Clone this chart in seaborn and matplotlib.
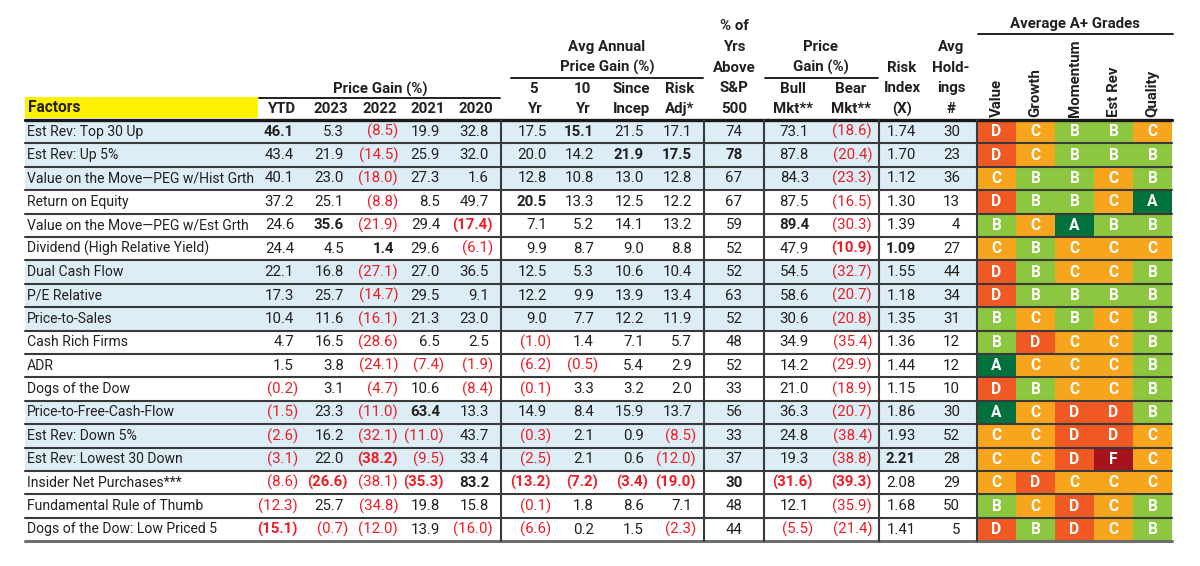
import numpy as np
import pandas as pd
import matplotlib.pyplot as plt
from matplotlib.colors import ListedColormap
from matplotlib.patches import Rectangle
import seaborn as sns

factors = ["Est Rev: Top 30 Up", "Est Rev: Up 5%", "Value on the Move\u2014PEG w/Hist Grth",
           "Return on Equity", "Value on the Move\u2014PEG w/Est Grth", "Dividend (High Relative Yield)",
           "Dual Cash Flow", "P/E Relative", "Price-to-Sales", "Cash Rich Firms", "ADR",
           "Dogs of the Dow", "Price-to-Free-Cash-Flow", "Est Rev: Down 5%", "Est Rev: Lowest 30 Down",
           "Insider Net Purchases***", "Fundamental Rule of Thumb", "Dogs of the Dow: Low Priced 5"]

ytd = [46.1, 43.4, 40.1, 37.2, 24.6, 24.4, 22.1, 17.3, 10.4, 4.7, 1.5, -0.2, -1.5, -2.6, -3.1, -8.6, -12.3, -15.1]
y2023 = [5.3, 21.9, 23.0, 25.1, 35.6, 4.5, 16.8, 25.7, 11.6, 16.5, 3.8, 3.1, 23.3, 16.2, 22.0, -26.6, 25.7, -0.7]
y2022 = [-8.5, -14.5, -18.0, -8.8, -21.9, 1.4, -27.1, -14.7, -16.1, -28.6, -24.1, -4.7, -11.0, -32.1, -38.2, -38.1, -34.8, -12.0]
y2021 = [19.9, 25.9, 27.3, 8.5, 29.4, 29.6, 27.0, 29.5, 21.3, 6.5, -7.4, 10.6, 63.4, -11.0, -9.5, -35.3, 19.8, 13.9]
y2020 = [32.8, 32.0, 1.6, 49.7, -17.4, -6.1, 36.5, 9.1, 23.0, 2.5, -1.9, -8.4, 13.3, 43.7, 33.4, 83.2, 15.8, -16.0]
avg5 = [17.5, 20.0, 12.8, 20.5, 7.1, 9.9, 12.5, 12.2, 9.0, -1.0, -6.2, -0.1, 14.9, -0.3, -2.5, -13.2, -0.1, -6.6]
avg10 = [15.1, 14.2, 10.8, 13.3, 5.2, 8.7, 5.3, 9.9, 7.7, 1.4, -0.5, 3.3, 8.4, 2.1, 2.1, -7.2, 1.8, 0.2]
since_incep = [21.5, 21.9, 13.0, 12.5, 14.1, 9.0, 10.6, 13.9, 12.2, 7.1, 5.4, 3.2, 15.9, 0.9, 0.6, -3.4, 8.6, 1.5]
risk_adj = [17.1, 17.5, 12.8, 12.2, 13.2, 8.8, 10.4, 13.4, 11.9, 5.7, 2.9, 2.0, 13.7, -8.5, -12.0, -19.0, 7.1, -2.3]
pct_above = [74, 78, 67, 67, 59, 52, 52, 63, 52, 48, 52, 33, 56, 33, 37, 30, 48, 44]
bull = [73.1, 87.8, 84.3, 87.5, 89.4, 47.9, 54.5, 58.6, 30.6, 34.9, 14.2, 21.0, 36.3, 24.8, 19.3, -31.6, 12.1, -5.5]
bear = [-18.6, -20.4, -23.3, -16.5, -30.3, -10.9, -32.7, -20.7, -20.8, -35.4, -29.9, -18.9, -20.7, -38.4, -38.8, -39.3, -35.9, -21.4]
risk_index = [1.74, 1.70, 1.12, 1.30, 1.39, 1.09, 1.55, 1.18, 1.35, 1.36, 1.44, 1.15, 1.86, 1.93, 2.21, 2.08, 1.68, 1.41]
holdings = [30, 23, 36, 13, 4, 27, 44, 34, 31, 12, 12, 10, 30, 52, 28, 29, 50, 5]

grade_names = ["Value", "Growth", "Momentum", "Est Rev", "Quality"]
grades = ["DCBBC", "DCBBB", "CBBCB", "DBBCA", "BCABB", "CBCCC", "DBCCB", "DBBBB", "BCBCB",
          "BDCCB", "ACCCB", "DBCCB", "ACDDB", "CCDDC", "CCDFC", "CDCCC", "BCDCB", "DBDCB"]

# colours
BLUE_ROW = "#DCEDF6"
YELLOW = "#FFF200"
RED = "#ED1C24"
INK = "#231F20"
grade_order = ["A", "B", "C", "D", "F"]
grade_colors = ["#00703C", "#8DC63F", "#F7A51D", "#F15A24", "#A5141C"]

sns.set_theme(style="white")
plt.rcParams["font.family"] = ["Roboto", "DejaVu Sans"]
FS_LAB = 10.1   # factor names
FS = 10.8       # numbers and headers

fig = plt.figure(figsize=(12, 5.66), dpi=100)
ax = fig.add_axes([0, 0, 1, 1])
ax.set_xlim(0, 1200)
ax.set_ylim(566, 0)
ax.axis("off")
ax.set_zorder(3)
ax.patch.set_alpha(0)

TOP, RH = 120.0, 23.4
n = len(factors)
row_y = [TOP + RH * (i + 0.5) for i in range(n)]
X0, XG, XE = 25, 977, 1172

# row backgrounds
for i in range(n):
    if (i // 3) % 2 == 0:
        ax.add_patch(Rectangle((X0, TOP + RH * i), XG - X0, RH, color=BLUE_ROW, lw=0, zorder=0))

# grades block via seaborn heatmap
gax = fig.add_axes([XG / 1200, 1 - (TOP + RH * n) / 566, (XE - XG) / 1200, RH * n / 566])
codes = np.array([[grade_order.index(c) for c in g] for g in grades])
letters = np.array([list(g) for g in grades])
sns.heatmap(pd.DataFrame(codes, columns=grade_names), ax=gax, cmap=ListedColormap(grade_colors),
            vmin=-0.5, vmax=4.5, annot=letters, fmt="", cbar=False, xticklabels=False, yticklabels=False,
            annot_kws=dict(color="white", fontweight="bold", fontsize=FS + 0.4))
gax.axis("off")

# numeric columns: (values, x anchor, alignment, decimals, bold extremes)
columns = [
    (ytd, 294, "right", 1, True), (y2023, 344, "right", 1, True), (y2022, 394, "right", 1, True),
    (y2021, 440, "right", 1, True), (y2020, 489, "right", 1, True),
    (avg5, 547, "right", 1, True), (avg10, 594, "right", 1, True),
    (since_incep, 644, "right", 1, True), (risk_adj, 692, "right", 1, True),
    (pct_above, 734, "center", 0, True),
    (bull, 809, "right", 1, True), (bear, 868, "right", 1, True),
    (risk_index, 901, "center", 2, True), (holdings, 960, "right", 0, False),
]

for i, name in enumerate(factors):
    ax.text(27, row_y[i], name, ha="left", va="center", fontsize=FS_LAB, color=INK)

for vals, x, align, dec, mark in columns:
    hi, lo = max(vals), min(vals)
    for i, v in enumerate(vals):
        s = f"{abs(v):.{dec}f}"
        neg = v < 0
        if neg:
            s = f"({s})"
        xx = x + 4 if (neg and align == "right") else x
        bold = mark and (v == hi or v == lo)
        ax.text(xx, row_y[i], s, ha=align, va="center", fontsize=FS,
                color=RED if neg else INK, fontweight="bold" if bold else "normal")

# header
ax.add_patch(Rectangle((X0, 97), 258 - X0, 21, color=YELLOW, lw=0, zorder=0))
hdr = dict(ha="center", va="center", fontsize=FS, fontweight="bold", color=INK)
ax.text(28, 108, "Factors", ha="left", va="center", fontsize=FS + 0.4, fontweight="bold", color=INK)
for lab, x in zip(["YTD", "2023", "2022", "2021", "2020"], [281, 331, 380, 428, 476]):
    ax.text(x, 109, lab, **hdr)
ax.text(380, 89, "Price Gain (%)", **hdr)
ax.plot([259, 500], [97.5, 97.5], color=INK, lw=1.4)

for top, bot, x in [("5", "Yr", 534), ("10", "Yr", 582), ("Since", "Incep", 631), ("Risk", "Adj*", 680),
                    ("Bull", "Mkt**", 793), ("Bear", "Mkt**", 851)]:
    ax.text(x, 89, top, **hdr)
    ax.text(x, 109, bot, **hdr)
ax.text(607, 47, "Avg Annual", **hdr)
ax.text(607, 67, "Price Gain (%)", **hdr)
ax.plot([511, 703], [77.5, 77.5], color=INK, lw=1.4)
ax.text(821, 47, "Price", **hdr)
ax.text(821, 67, "Gain (%)", **hdr)
ax.plot([765, 878], [77.5, 77.5], color=INK, lw=1.4)

for lab, y in zip(["% of", "Yrs", "Above", "S&P", "500"], [26, 47, 68, 88, 109]):
    ax.text(734, y, lab, **hdr)
for lab, y in zip(["Risk", "Index", "(X)"], [68, 88, 109]):
    ax.text(902, y, lab, **hdr)
for lab, y in zip(["Avg", "Hold-", "ings", "#"], [47, 68, 88, 109]):
    ax.text(951, y, lab, **hdr)

ax.text((XG + XE) / 2, 24, "Average A+ Grades", **hdr)
ax.plot([XG + 1, XE + 1], [34, 34], color=INK, lw=1.4)
gw = (XE - XG) / len(grade_names)
for j, g in enumerate(grade_names):
    ax.text(XG + gw * (j + 0.5), 117, g, rotation=90, ha="center", va="bottom",
            fontsize=FS, fontweight="bold", color=INK)

# rules
for i in range(1, n):
    yy = TOP + RH * i
    ax.plot([X0, XE], [yy, yy], color="#3A3A3A", lw=1.5, zorder=4)
ax.plot([X0, XE], [TOP, TOP], color="#1A1A1A", lw=2.4, zorder=4)
ax.plot([X0, XE], [TOP + RH * n, TOP + RH * n], color="#6E6E6E", lw=2.2, zorder=4)
for xv in [500.5, 704, 764, 879, XG]:
    ax.plot([xv, xv], [TOP, TOP + RH * n], color="#3A3A3A", lw=1.5, zorder=4)

fig.savefig("out.png", dpi=100)
